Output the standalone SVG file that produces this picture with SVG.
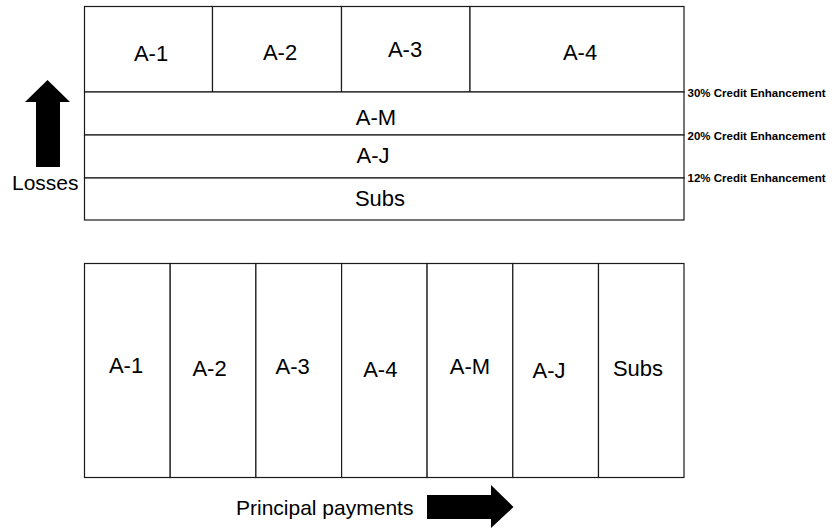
<svg xmlns="http://www.w3.org/2000/svg" width="835" height="531" viewBox="0 0 835 531">
  <style>
    .cell { fill: #ffffff; stroke: #1a1a1a; stroke-width: 1.2; }
    .lbl { font-family: "Liberation Sans", Arial, sans-serif; font-size: 22px; fill: #000; text-anchor: middle; }
    .side { font-family: "Liberation Sans", Arial, sans-serif; font-size: 21px; fill: #000; }
    .ce { font-family: "Liberation Sans", Arial, sans-serif; font-size: 11.5px; font-weight: bold; fill: #000; }
    .arrow { fill: #000; stroke: none; }
  </style>
  <rect width="835" height="531" fill="#ffffff"/>

  <!-- Loss allocation stack -->
  <g id="top-a1"><rect class="cell" x="84.5" y="6.5" width="128" height="85.5"/><text class="lbl" x="151" y="61">A-1</text></g>
  <g id="top-a2"><rect class="cell" x="212.5" y="6.5" width="129" height="85.5"/><text class="lbl" x="280" y="60">A-2</text></g>
  <g id="top-a3"><rect class="cell" x="341.5" y="6.5" width="128.5" height="85.5"/><text class="lbl" x="405" y="57">A-3</text></g>
  <g id="top-a4"><rect class="cell" x="470" y="6.5" width="214" height="85.5"/><text class="lbl" x="580" y="60">A-4</text></g>
  <g id="top-am"><rect class="cell" x="84.5" y="92" width="599.5" height="43"/><text class="lbl" x="376" y="125">A-M</text></g>
  <g id="top-aj"><rect class="cell" x="84.5" y="135" width="599.5" height="43"/><text class="lbl" x="373" y="163">A-J</text></g>
  <g id="top-subs"><rect class="cell" x="84.5" y="178" width="599.5" height="42"/><text class="lbl" x="380" y="206">Subs</text></g>

  <!-- Credit enhancement levels -->
  <g id="ce-labels">
    <text class="ce" x="687.5" y="96.5">30% Credit Enhancement</text>
    <text class="ce" x="687.5" y="139.5">20% Credit Enhancement</text>
    <text class="ce" x="687.5" y="182">12% Credit Enhancement</text>
  </g>

  <!-- Principal payment sequence -->
  <g id="bot-a1"><rect class="cell" x="84.5" y="263.5" width="85.7" height="214"/><text class="lbl" x="126" y="373">A-1</text></g>
  <g id="bot-a2"><rect class="cell" x="170.2" y="263.5" width="85.7" height="214"/><text class="lbl" x="209.5" y="376">A-2</text></g>
  <g id="bot-a3"><rect class="cell" x="255.9" y="263.5" width="85.7" height="214"/><text class="lbl" x="292.7" y="374">A-3</text></g>
  <g id="bot-a4"><rect class="cell" x="341.6" y="263.5" width="85.5" height="214"/><text class="lbl" x="380.3" y="377">A-4</text></g>
  <g id="bot-am"><rect class="cell" x="427.1" y="263.5" width="85.7" height="214"/><text class="lbl" x="470" y="374">A-M</text></g>
  <g id="bot-aj"><rect class="cell" x="512.8" y="263.5" width="85.7" height="214"/><text class="lbl" x="549" y="378">A-J</text></g>
  <g id="bot-subs"><rect class="cell" x="598.5" y="263.5" width="85.5" height="214"/><text class="lbl" x="638" y="376">Subs</text></g>

  <!-- Direction arrows -->
  <g id="connectors">
    <polygon class="arrow" points="47.5,80 70,102 60,102 60,167 36,167 36,102 25,102"/>
    <polygon class="arrow" points="427,495 491,495 491,485 513.5,507 491,528 491,519 427,519"/>
  </g>
  <g id="direction-labels">
    <text class="side" x="12" y="190">Losses</text>
    <text class="side" x="236" y="515">Principal payments</text>
  </g>
</svg>
